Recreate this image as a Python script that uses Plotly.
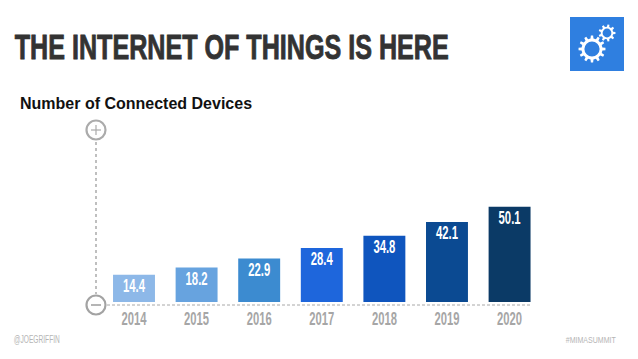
import math
import plotly.graph_objects as go

W, H = 638, 359
PAGE_INSET = 8
years = ["2014", "2015", "2016", "2017", "2018", "2019", "2020"]
devices = [14.4, 18.2, 22.9, 28.4, 34.8, 42.1, 50.1]
bar_colors = ["#8DB8E8", "#67A3DF", "#3C8BD0", "#1E66DC", "#0F55BE", "#0B4A92", "#0B3A66"]
title_text = "THE INTERNET OF THINGS IS HERE"
subtitle_text = "Number of Connected Devices"
left_note = "@JOEGRIFFIN"
right_note = "#MIMASUMMIT"

FONT = "Liberation Sans, Arial, sans-serif"
GREY = "#A6A6A6"
FW, FH = W - PAGE_INSET, H - PAGE_INSET

def px(x):
    return (x - PAGE_INSET) / FW

def py(y):
    return 1 - (y - PAGE_INSET) / FH

def gear_path(cx, cy, r_out, r_in, teeth):
    pts = []
    step = 2 * math.pi / teeth
    for i in range(teeth):
        a = i * step
        for frac, r in ((-0.27, r_in), (-0.16, r_out), (0.16, r_out), (0.27, r_in)):
            t = a + frac * step
            pts.append((px(cx + r * math.cos(t)), py(cy + r * math.sin(t))))
    return "M " + " L ".join(f"{x:.5f},{y:.5f}" for x, y in pts) + " Z"

def rect(x0, y0, x1, y1, fill):
    return dict(type="rect", xref="paper", yref="paper", x0=px(x0), x1=px(x1), y0=py(y1), y1=py(y0),
                fillcolor=fill, line=dict(width=0), layer="above")

def circle(cx, cy, r, fill, color, width):
    return dict(type="circle", xref="paper", yref="paper", x0=px(cx - r), x1=px(cx + r), y0=py(cy + r), y1=py(cy - r),
                fillcolor=fill, line=dict(color=color, width=width), layer="above")

def line(x0, y0, x1, y1, color, width, dash="solid"):
    return dict(type="line", xref="paper", yref="paper", x0=px(x0), x1=px(x1), y0=py(y0), y1=py(y1),
                line=dict(color=color, width=width, dash=dash), layer="above")

shapes = [
    line(96, 142, 96, 294, "#ABABAB", 1.5, "dot"),
    line(107, 305, 532, 305, "#A8A8A8", 1, "3px,2px"),
    circle(96, 130, 9.5, "white", "#ABABAB", 2.2),
    line(91, 130, 101, 130, "#ABABAB", 1.2),
    line(96, 125, 96, 135, "#ABABAB", 1.2),
    circle(96, 305, 9.5, "white", "#A3A3A3", 2.2),
    line(91, 305, 101, 305, "#A3A3A3", 1.6),
    rect(570, 17, 624, 71, "#2F7FE0"),
]
for cx, cy, r_o, r_i, n, hole in [(592, 49, 13.5, 10.5, 12, 7.6), (607, 33, 8.5, 6.3, 9, 4.4)]:
    shapes.append(dict(type="path", xref="paper", yref="paper", path=gear_path(cx, cy, r_o, r_i, n),
                       fillcolor="white", line=dict(width=0), layer="above"))
    shapes.append(circle(cx, cy, hole, "#2F7FE0", "#2F7FE0", 0))

def note(text, x, y, size, color, weight="normal"):
    return dict(text=text, xref="paper", yref="paper", x=px(x), y=py(y), xanchor="center", yanchor="middle",
                showarrow=False, font=dict(size=size, color=color, family=FONT, weight=weight))

annotations = [
    note(title_text, 231, 47.5, 35.5, "#333333", "bold"),
    note(subtitle_text, 136, 103, 16, "#111111", "bold"),
    note(left_note, 37, 339, 10, "#B5B5B5"),
    note(right_note, 591, 339, 9.5, "#B5B5B5"),
]

fig = go.Figure()
fig.add_bar(
    x=years, y=devices,
    marker=dict(color=bar_colors, line=dict(width=0)),
    hoverinfo="skip",
)
fig.add_scatter(
    x=years, y=[v - 2.0 for v in devices], mode="text",
    text=[f"{v:.1f}" for v in devices], textposition="bottom center",
    textfont=dict(color="white", size=18, family=FONT, weight="bold"),
    hoverinfo="skip",
)
fig.update_layout(
    width=FW, height=FH, autosize=False,
    margin=dict(l=0, r=0, t=0, b=0),
    paper_bgcolor="white", plot_bgcolor="white",
    showlegend=False, bargap=0.33,
    shapes=shapes, annotations=annotations,
    xaxis=dict(domain=[px(96), px(540)], range=[-0.607, 6.486], type="category",
               showgrid=False, zeroline=False, showline=False, ticks="",
               tickfont=dict(size=18, color=GREY, family=FONT, weight="bold"), ticklabelstandoff=1),
    yaxis=dict(domain=[py(305), py(130)], range=[-1.58, 90.5], visible=False),
)

# No condensed display face is installed, so the real text is narrowed in the SVG to the reference's widths.
condense = """
var gd = document.getElementById('{plot_id}');
function fit(el, len) { el.setAttribute('lengthAdjust', 'spacingAndGlyphs'); el.setAttribute('textLength', len); }
function condense() {
  gd.querySelectorAll('.annotation-text').forEach(function (t) {
    var s = t.textContent;
    if (s.indexOf('INTERNET') >= 0) {
      fit(t, 434);
      t.style.stroke = '#333333';
      t.style.strokeWidth = '0.9px';
    }
    else if (s.charAt(0) === '@') fit(t, 46);
    else if (s.charAt(0) === '#') fit(t, 50);
  });
  gd.querySelectorAll('.xtick text').forEach(function (t) { fit(t, 25); });
  gd.querySelectorAll('.textpoint text').forEach(function (t) { fit(t, 22); });
}
condense();
gd.on('plotly_afterplot', condense);
"""
fig.write_html("out.html", config=dict(displayModeBar=False), post_script=condense)
